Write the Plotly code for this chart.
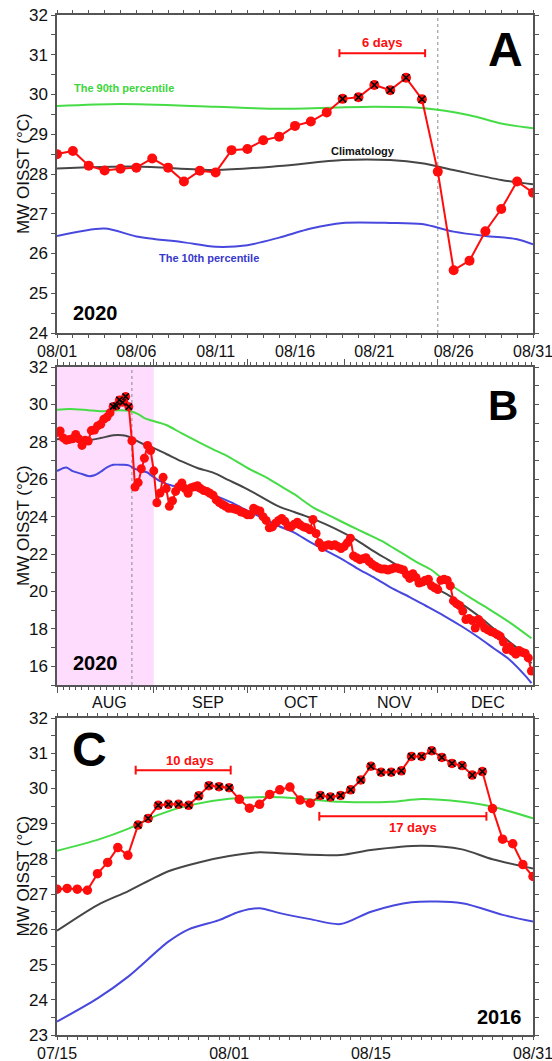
import pandas as pd
import plotly.graph_objects as go

FONT = "Liberation Sans, Arial, Helvetica, sans-serif"
RED = "#FF0D0D"
GREEN = "#46DC46"
CLIM = "#464646"
BLUE = "#4848DE"
FRAME = "#555555"

# ---------------- Panel A : August 2020 (daily) ----------------
a_start = "2020-08-01"
a_end = "2020-08-31"
a_sst = [28.50, 28.58, 28.21, 28.09, 28.13, 28.16, 28.39, 28.16, 27.81, 28.08,
         28.04, 28.60, 28.63, 28.85, 28.94, 29.21, 29.32, 29.55, 29.89, 29.93,
         30.24, 30.11, 30.42, 29.88, 28.06, 25.58, 25.82, 26.56, 27.12, 27.81, 27.53]
a_event_idx = [18, 19, 20, 21, 22, 23]
a_p90_days = [0, 4, 10, 14, 20, 23, 26, 28, 30]
a_p90 = [29.71, 29.76, 29.69, 29.64, 29.69, 29.66, 29.48, 29.27, 29.15]
a_clim_days = [0, 5, 10, 14, 18, 21, 23, 25, 28, 30]
a_clim = [28.14, 28.19, 28.10, 28.20, 28.35, 28.35, 28.27, 28.10, 27.85, 27.74]
a_p10_days = [0, 3, 5, 8, 10, 12, 14, 16, 18, 21, 23, 25, 27, 29, 30]
a_p10 = [26.44, 26.63, 26.43, 26.28, 26.17, 26.21, 26.40, 26.63, 26.77, 26.77,
         26.74, 26.55, 26.44, 26.36, 26.23]

# ---------------- Panel B : Aug-Dec 2020 (daily) ----------------
b_start = "2020-08-01"
b_end = "2020-12-31"
b_sep = [26.45, 24.74, 25.26, 26.10, 25.50, 24.55, 24.85, 25.35, 25.60, 25.80,
         25.50, 25.25, 25.55, 25.60, 25.65, 25.50, 25.40, 25.35, 25.25, 25.15,
         24.90, 24.75, 24.65, 24.55, 24.45, 24.45, 24.40, 24.35, 24.25, 24.20]
b_oct = [24.10, 24.10, 24.45, 24.35, 24.30, 24.00, 23.80, 23.40, 23.45, 23.65,
         23.80, 23.90, 23.75, 23.50, 23.45, 23.60, 23.70, 23.55, 23.45, 23.40,
         23.30, 23.85, 23.10, 22.60, 22.35, 22.45, 22.50, 22.45, 22.50, 22.40, 22.30]
b_nov = [22.40, 22.60, 22.85, 21.90, 21.80, 21.70, 21.75, 21.80, 21.60, 21.45,
         21.35, 21.25, 21.20, 21.20, 21.15, 21.20, 21.25, 21.25, 21.20, 21.15,
         20.90, 20.70, 20.95, 20.75, 20.45, 20.50, 20.60, 20.65, 20.30, 20.20]
b_dec = [20.10, 20.60, 20.65, 20.60, 20.30, 19.50, 19.35, 19.25, 18.95, 18.50,
         18.55, 18.45, 18.05, 18.50, 18.30, 18.05, 17.95, 17.85, 17.80, 17.70,
         17.60, 17.30, 16.90, 17.05, 16.80, 16.65, 16.85, 16.75, 16.70, 16.45, 15.75]
b_sst = a_sst + b_sep + b_oct + b_nov + b_dec
b_event_idx = a_event_idx
b_p90_days = a_p90_days + [35, 40, 46, 50, 55, 62, 67, 71, 76, 82, 88, 94, 99, 104,
                           108, 112, 116, 120, 124, 127, 133, 138, 145, 152]
b_p90 = a_p90 + [28.90, 28.45, 27.93, 27.60, 27.20, 26.51, 26.10, 25.70, 25.20, 24.50,
                 24.00, 23.50, 23.10, 22.70, 22.30, 21.90, 21.50, 21.15, 20.60, 20.25,
                 19.60, 19.10, 18.35, 17.50]
b_clim_days = a_clim_days + [35, 40, 45, 50, 55, 60, 65, 71, 76, 81, 86, 91, 96, 101,
                             106, 111, 116, 120, 125, 130, 135, 140, 145, 150, 152]
b_clim = a_clim + [27.35, 26.95, 26.60, 26.35, 25.95, 25.55, 25.10, 24.55, 24.25, 23.95,
                   23.60, 23.20, 22.75, 22.20, 21.70, 21.20, 20.65, 20.25, 19.85, 19.30,
                   18.70, 18.00, 17.30, 16.60, 16.15]
b_p10_days = a_p10_days + [33, 37, 42, 46, 51, 56, 60, 65, 71, 76, 81, 86, 91, 96, 102,
                           107, 113, 118, 124, 130, 135, 140, 145, 150, 152]
b_p10 = a_p10 + [25.90, 25.65, 25.50, 25.35, 25.10, 24.75, 24.40, 24.00, 23.50, 23.15,
                 22.65, 22.20, 21.75, 21.25, 20.70, 20.20, 19.70, 19.25, 18.70, 18.10,
                 17.55, 16.95, 16.35, 15.50, 15.10]
b_months = ["AUG", "SEP", "OCT", "NOV", "DEC"]

# ---------------- Panel C : 15 Jul - 31 Aug 2016 (daily) ----------------
c_start = "2016-07-15"
c_end = "2016-08-31"
c_sst = [27.14, 27.16, 27.14, 27.11, 27.58, 27.90, 28.32, 28.10, 28.96, 29.15,
         29.52, 29.55, 29.55, 29.52, 29.79, 30.08, 30.05, 30.02, 29.69, 29.44,
         29.55, 29.83, 29.96, 30.04, 29.67, 29.58, 29.80, 29.76, 29.80, 29.96,
         30.24, 30.63, 30.46, 30.46, 30.50, 30.91, 30.91, 31.07, 30.88, 30.71,
         30.65, 30.38, 30.48, 29.43, 28.56, 28.43, 27.84, 27.50]
c_event_idx = list(range(8, 18)) + list(range(26, 43))
c_p90_days = [0, 4, 7, 10, 13, 17, 22, 28, 33, 36, 40, 43, 47]
c_p90 = [28.23, 28.54, 28.85, 29.25, 29.52, 29.71, 29.75, 29.62, 29.62, 29.70, 29.62,
         29.48, 29.15]
c_clim_days = [0, 4, 7, 11, 14, 17, 20, 22, 28, 31, 36, 40, 43, 47]
c_clim = [25.96, 26.69, 27.08, 27.65, 27.90, 28.08, 28.19, 28.16, 28.11, 28.25, 28.37,
          28.27, 27.99, 27.73]
c_p10_days = [0, 4, 7, 11, 13, 16, 18, 20, 22, 25, 28, 31, 35, 40, 44, 47]
c_p10 = [23.38, 24.04, 24.65, 25.65, 26.00, 26.26, 26.50, 26.60, 26.46, 26.29, 26.15,
         26.50, 26.77, 26.74, 26.41, 26.22]

# ---------------- layout geometry (pixels) ----------------
W, H = 552, 1061
ML, MR, MT, MB = 57, 19, 15, 26
PW, PH = W - ML - MR, H - MT - MB


def px(x):
    return (x - ML) / PW


def py(y):
    return (H - MB - y) / PH


def ts(base, d):
    return pd.Timestamp(base) + pd.Timedelta(days=d)


fig = go.Figure()


def add_panel(n, start, end, sst, ev_idx, p90d, p90, cd, cl, p10d, p10, msize):
    xa, ya = ("x", "y") if n == 1 else (f"x{n}", f"y{n}")
    dates = pd.date_range(start, end, freq="D")
    for days, vals, col in ((p90d, p90, GREEN), (cd, cl, CLIM), (p10d, p10, BLUE)):
        fig.add_trace(go.Scatter(
            x=[ts(start, d) for d in days], y=vals, mode="lines",
            line=dict(color=col, width=2, shape="spline", smoothing=0.8),
            xaxis=xa, yaxis=ya, showlegend=False, hoverinfo="skip"))
    fig.add_trace(go.Scatter(
        x=dates, y=sst, mode="lines+markers",
        line=dict(color=RED, width=2),
        marker=dict(color=RED, size=msize, line=dict(width=0)),
        xaxis=xa, yaxis=ya, showlegend=False))
    fig.add_trace(go.Scatter(
        x=[dates[i] for i in ev_idx], y=[sst[i] for i in ev_idx], mode="markers",
        marker=dict(symbol="x-thin", size=msize * 0.7, color="black",
                    line=dict(color="black", width=1.6)),
        xaxis=xa, yaxis=ya, showlegend=False, hoverinfo="skip"))


add_panel(1, a_start, a_end, a_sst, a_event_idx, a_p90_days, a_p90,
          a_clim_days, a_clim, a_p10_days, a_p10, 10)
add_panel(2, b_start, b_end, b_sst, b_event_idx, b_p90_days, b_p90,
          b_clim_days, b_clim, b_p10_days, b_p10, 9)
add_panel(3, c_start, c_end, c_sst, c_event_idx, c_p90_days, c_p90,
          c_clim_days, c_clim, c_p10_days, c_p10, 9.5)

DAY = 86400000

base_axis = dict(showline=True, linecolor=FRAME, linewidth=1.5, mirror="allticks",
                 ticks="outside", tickcolor=FRAME, ticklen=4, tickwidth=1,
                 showgrid=False, zeroline=False, automargin=False,
                 tickfont=dict(family=FONT, size=17, color="#111111"))
xfont = dict(family=FONT, size=16, color="#111111")


def dom(top, bottom):
    return [py(bottom), py(top)]


fig.update_layout(
    template="none",
    width=W, height=H,
    margin=dict(l=ML, r=MR, t=MT, b=MB, autoexpand=False),
    paper_bgcolor="white", plot_bgcolor="white",
    font=dict(family=FONT, size=17, color="#111111"),
    xaxis=dict(base_axis, domain=[0, 1], anchor="y", tickfont=xfont,
               ticklabeloverflow="allow",
               range=[a_start, a_end], tickformat="%m/%d",
               tick0=a_start, dtick=5 * DAY, ticklen=3,
               minor=dict(dtick=DAY, tick0=a_start, ticks="outside", ticklen=3,
                          tickcolor=FRAME)),
    yaxis=dict(base_axis, domain=dom(15, 333), anchor="x", range=[24, 32], dtick=1,
               minor=dict(dtick=0.5, ticks="outside", ticklen=4, tickcolor=FRAME)),
    xaxis2=dict(base_axis, domain=[0, 1], anchor="y2",
                range=[b_start, ts(b_end, 0.5)], showticklabels=False,
                tickmode="array",
                tickvals=[ts(b_start, 0), "2020-09-01", "2020-10-01", "2020-11-01",
                          "2020-12-01"],
                ticklen=6,
                minor=dict(dtick=2 * DAY, tick0=b_start, ticks="outside", ticklen=3,
                           tickcolor=FRAME)),
    yaxis2=dict(base_axis, domain=dom(367, 685), anchor="x2", range=[15, 32],
                tickmode="array", tickvals=list(range(16, 33, 2)),
                minor=dict(dtick=1, ticks="outside", ticklen=4, tickcolor=FRAME)),
    xaxis3=dict(base_axis, domain=[0, 1], anchor="y3", tickfont=xfont,
                ticklabeloverflow="allow",
                range=[c_start, c_end], tickformat="%m/%d", tickmode="array",
                tickvals=[c_start, "2016-08-01", "2016-08-15", c_end], ticklen=3,
                minor=dict(dtick=DAY, tick0=c_start, ticks="outside", ticklen=3,
                           tickcolor=FRAME)),
    yaxis3=dict(base_axis, domain=dom(718, 1035), anchor="x3", range=[23, 32], dtick=1,
                minor=dict(dtick=0.5, ticks="outside", ticklen=4, tickcolor=FRAME)),
)

shapes = []
# pink shading in B (August)
shapes.append(dict(type="rect", xref="x2", yref="y2 domain", x0=b_start, x1="2020-09-01",
                   y0=0, y1=1, fillcolor="#FDDCFD", line=dict(width=0), layer="below"))
# dotted line at the end of the event
for xr, yr in (("x", "y domain"), ("x2", "y2 domain")):
    shapes.append(dict(type="line", xref=xr, yref=yr, x0="2020-08-25", x1="2020-08-25",
                       y0=0, y1=1, line=dict(color="#8A8A8A", width=1, dash="dot"),
                       layer="below"))


def duration_bar(xr, yr, base, d0, d1, y, cap):
    x0, x1 = ts(base, d0), ts(base, d1)
    shapes.append(dict(type="line", xref=xr, yref=yr, x0=x0, x1=x1, y0=y, y1=y,
                       line=dict(color=RED, width=2)))
    for x in (x0, x1):
        shapes.append(dict(type="line", xref=xr, yref=yr, x0=x, x1=x, y0=y - cap,
                           y1=y + cap, line=dict(color=RED, width=2)))


duration_bar("x", "y", a_start, 17.8, 23.2, 31.04, 0.1)
duration_bar("x3", "y3", c_start, 7.77, 17.15, 30.52, 0.125)
duration_bar("x3", "y3", c_start, 25.9, 42.4, 29.21, 0.125)
fig.update_layout(shapes=shapes)

ann = []


def label(text, x, y, size, color="black", bold=True, angle=0):
    ann.append(dict(text=f"<b>{text}</b>" if bold else text, x=px(x), y=py(y),
                    xref="paper", yref="paper", showarrow=False, xanchor="center",
                    yanchor="middle", textangle=angle,
                    font=dict(family=FONT, size=size, color=color)))


label("The 90th percentile", 124, 88, 11, "#3CD63C")
label("Climatology", 363, 151, 11, "#111111")
label("The 10th percentile", 209, 258, 11, "#3838CC")
label("2020", 95, 313, 20)
label("A", 505, 50, 48)
label("6 days", 382, 42, 13, RED)

label("B", 503, 405, 42)
label("2020", 95, 663, 20)
for m, xm in zip(b_months, [109, 208, 301, 394, 488]):
    label(m, xm, 702, 16, "#111111", bold=False)

label("C", 89, 749, 48)
label("2016", 499, 1017, 20)
label("10 days", 190, 760, 13, RED)
label("17 days", 413, 827, 13, RED)

for yc in (174, 526, 876.5):
    label("MW OISST (°C)", 23, yc, 17, "#111111", bold=False, angle=-90)

fig.update_layout(annotations=ann)

fig.write_html("out.html")
